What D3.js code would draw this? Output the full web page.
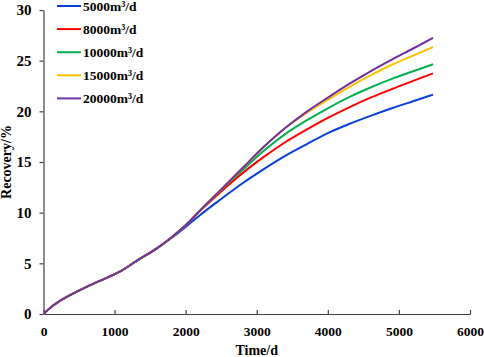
<!DOCTYPE html>
<html>
<head>
<meta charset="utf-8">
<script src="https://cdn.jsdelivr.net/npm/d3@7"></script>
<style>
  body { margin: 0; background: #fff; }
  svg text { font-family: "Liberation Serif", "Times New Roman", serif; font-weight: bold; fill: #000; }
</style>
</head>
<body>
<svg id="chart" width="484" height="357"></svg>
<script>
// time axis (days) shared by all series
const days = [0, 100, 200, 400, 600, 800, 1080, 1300, 1600, 1800, 2000, 2200, 2500, 2800, 3100, 3400, 3700, 4000, 4300, 4600, 4900, 5200, 5480];

const seriesNames = ["5000m\u00b3/d", "8000m\u00b3/d", "10000m\u00b3/d", "15000m\u00b3/d", "20000m\u00b3/d"];
const seriesColors = ["#0a3fd9", "#ff0000", "#00b050", "#ffc000", "#7030a0"];

const rec5000  = [0, 0.65, 1.15, 1.95, 2.65, 3.3, 4.2, 5.2, 6.5, 7.5, 8.6, 9.75, 11.35, 12.9, 14.3, 15.6, 16.75, 17.85, 18.75, 19.55, 20.3, 21.0, 21.65];
const rec8000  = [0, 0.65, 1.15, 1.95, 2.65, 3.3, 4.2, 5.2, 6.5, 7.55, 8.75, 10.15, 12.1, 13.9, 15.5, 16.95, 18.2, 19.35, 20.4, 21.35, 22.2, 23.0, 23.75];
const rec10000 = [0, 0.65, 1.15, 1.95, 2.65, 3.3, 4.2, 5.2, 6.5, 7.55, 8.75, 10.2, 12.25, 14.2, 16.1, 17.75, 19.1, 20.3, 21.4, 22.35, 23.2, 23.95, 24.65];
const rec15000 = [0, 0.65, 1.15, 1.95, 2.65, 3.3, 4.2, 5.2, 6.5, 7.55, 8.75, 10.2, 12.3, 14.4, 16.5, 18.35, 19.85, 21.15, 22.4, 23.55, 24.6, 25.5, 26.35];
const rec20000 = [0, 0.65, 1.15, 1.95, 2.65, 3.3, 4.2, 5.2, 6.5, 7.55, 8.75, 10.2, 12.3, 14.4, 16.5, 18.35, 19.95, 21.35, 22.7, 23.95, 25.1, 26.2, 27.25];

const xTicks = [0, 1000, 2000, 3000, 4000, 5000, 6000];
const yTicks = [0, 5, 10, 15, 20, 25, 30];

let svg = d3.select("#chart");

let x_left = 43.5, x_right = 470;
let y_bottom = 314, y_top = 10;

let xScale = d3.scaleLinear().domain([0, 6000]).range([x_left, x_right]);
let yScale = d3.scaleLinear().domain([0, 30]).range([y_bottom, y_top]);

// axes
let xAxis = d3.axisBottom(xScale).tickValues(xTicks).tickFormat(d3.format("d"))
    .tickSizeInner(-4).tickSizeOuter(0).tickPadding(12);
let gx = svg.append("g")
    .attr("transform", "translate(0," + y_bottom + ")")
    .call(xAxis);

let yAxis = d3.axisLeft(yScale).tickValues(yTicks).tickFormat(d3.format("d"))
    .tickSizeInner(4).tickSizeOuter(0).tickPadding(8);
let gy = svg.append("g")
    .attr("transform", "translate(" + x_left + ",0)")
    .call(yAxis);

[gx, gy].forEach(function (g) {
    g.selectAll("path, line").attr("stroke", "#404040").attr("stroke-width", 1.2);
    g.selectAll("text")
        .style("font-family", "'Liberation Serif', serif")
        .style("font-weight", "bold")
        .attr("fill", "#000");
});
gx.selectAll("text").style("font-size", "13.5px").attr("dy", "0.75em");
gy.selectAll("text").style("font-size", "15px");

// axis titles
svg.append("text")
    .attr("x", (x_left + x_right) / 2)
    .attr("y", 355)
    .attr("text-anchor", "middle")
    .style("font-size", "14px")
    .text("Time/d");

svg.append("text")
    .attr("transform", "translate(11," + ((y_top + y_bottom) / 2) + ") rotate(-90)")
    .attr("text-anchor", "middle")
    .style("font-size", "14px")
    .text("Recovery/%");

// curves
let allSeries = [rec5000, rec8000, rec10000, rec15000, rec20000];

let line = d3.line()
    .x(function (d, i) { return xScale(days[i]); })
    .y(function (d) { return yScale(d); })
    .curve(d3.curveMonotoneX);

svg.append("g").selectAll("path")
    .data(allSeries)
    .enter().append("path")
    .attr("d", function (d) { return line(d); })
    .attr("fill", "none")
    .attr("stroke", function (d, i) { return seriesColors[i]; })
    .attr("stroke-width", 2);

// legend
let legend = svg.append("g").attr("transform", "translate(57,6)");
let items = legend.selectAll("g")
    .data(seriesNames)
    .enter().append("g")
    .attr("transform", function (d, i) { return "translate(0," + (i * 23.1) + ")"; });

items.append("line")
    .attr("x1", 0).attr("x2", 24)
    .attr("y1", 0).attr("y2", 0)
    .attr("stroke", function (d, i) { return seriesColors[i]; })
    .attr("stroke-width", 2);

items.append("text")
    .attr("x", 26)
    .attr("y", 5)
    .style("font-size", "13.5px")
    .text(function (d) { return d; });
</script>
</body>
</html>
